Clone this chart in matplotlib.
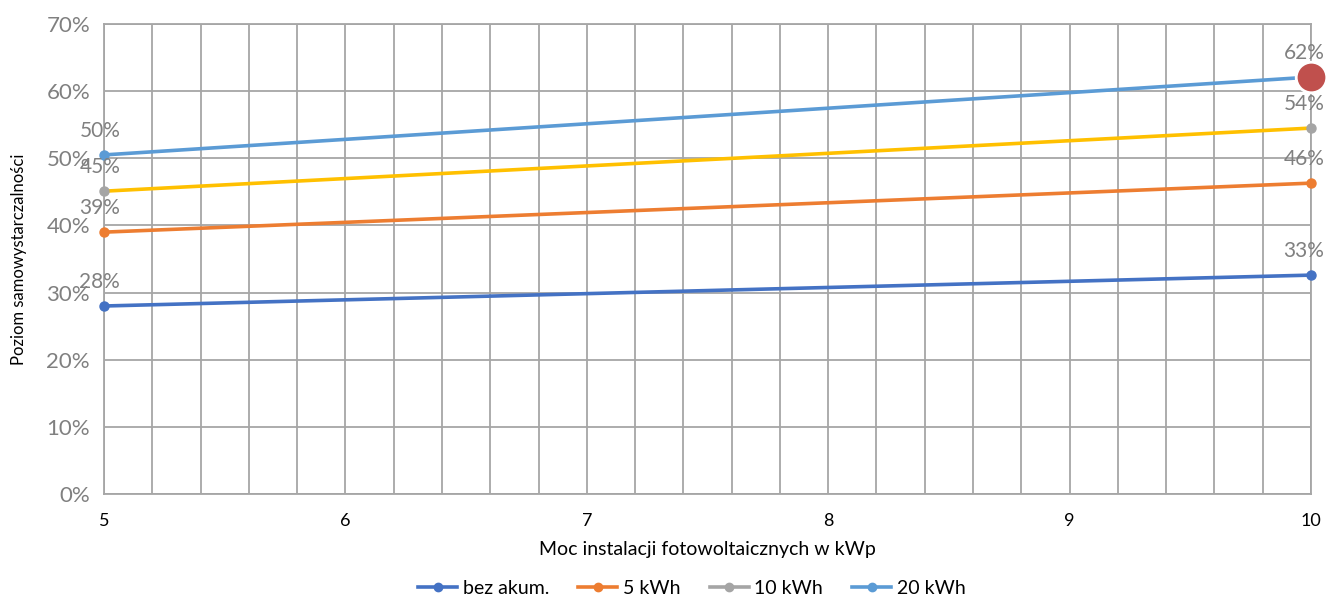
import matplotlib
matplotlib.use("Agg")
import matplotlib.pyplot as plt
import numpy as np
from matplotlib.lines import Line2D
from matplotlib.ticker import MultipleLocator, FuncFormatter

plt.rcParams['font.family'] = ['Lato', 'DejaVu Sans']

x_vals = [5, 10]
series_names = ["bez akum.", "5 kWh", "10 kWh", "20 kWh"]
bez_akum = [28.0, 32.6]
kwh5 = [39.0, 46.3]
kwh10 = [45.1, 54.5]
kwh20 = [50.5, 62.1]
labels_start = ["28%", "39%", "45%", "50%"]
labels_end = ["33%", "46%", "54%", "62%"]

series = [bez_akum, kwh5, kwh10, kwh20]
line_colors = ["#4472C4", "#ED7D31", "#FFC000", "#5B9BD5"]
marker_colors = ["#4472C4", "#ED7D31", "#A5A5A5", "#5B9BD5"]
legend_colors = ["#4472C4", "#ED7D31", "#A5A5A5", "#5B9BD5"]

fig = plt.figure(figsize=(13.33, 5.97), dpi=100)
ax = fig.add_axes([104/1333, 1 - 494/597, (1311-104)/1333, (494-24)/597])

for s, lc, mc in zip(series, line_colors, marker_colors):
    ax.plot(x_vals, s, color=lc, lw=2.6, marker='o', ms=6.5,
            markerfacecolor=mc, markeredgecolor=mc, zorder=3, solid_capstyle='round',
            clip_on=False)

# highlighted last point of 20 kWh
ax.plot([x_vals[1]], [kwh20[1]], marker='o', ms=22, markerfacecolor="#C0504D",
        markeredgecolor="white", markeredgewidth=2, zorder=5, linestyle='none',
        clip_on=False)

for s, ls, le in zip(series, labels_start, labels_end):
    ax.annotate(ls, (x_vals[0], s[0]), xytext=(-3, 10), textcoords='offset points',
                ha='center', va='bottom', fontsize=15, color="#808080", zorder=6)
    ax.annotate(le, (x_vals[1], s[1]), xytext=(-5, 10), textcoords='offset points',
                ha='center', va='bottom', fontsize=15, color="#808080", zorder=6)

ax.set_xlim(5, 10)
ax.set_ylim(0, 70)
ax.xaxis.set_major_locator(MultipleLocator(1))
ax.xaxis.set_minor_locator(MultipleLocator(0.2))
ax.yaxis.set_major_locator(MultipleLocator(10))
ax.yaxis.set_major_formatter(FuncFormatter(lambda v, p: f"{int(round(v))}%"))
ax.grid(which='both', axis='x', color="#A6A6A6", lw=1.3)
ax.grid(which='major', axis='y', color="#A6A6A6", lw=1.3)
ax.set_axisbelow(True)
for sp in ax.spines.values():
    sp.set_color("#A6A6A6")
    sp.set_linewidth(1.3)
ax.tick_params(axis='both', which='both', length=0)
ax.tick_params(axis='y', labelsize=16, labelcolor="#808080", pad=10)
ax.tick_params(axis='x', labelsize=13, labelcolor="black", pad=14)
ax.set_xlabel("Moc instalacji fotowoltaicznych w kWp", fontsize=14, labelpad=8)
ax.set_ylabel("Poziom samowystarczalności", fontsize=12, labelpad=14)

handles = [Line2D([0], [0], color=c, lw=2.6, marker='o', ms=6, markerfacecolor=c,
                  markeredgecolor=c) for c in legend_colors]
fig.legend(handles, series_names, loc='center', bbox_to_anchor=(692/1333, 1 - 588/597),
           ncol=4, frameon=False, fontsize=14, handlelength=2.0, handletextpad=0.3,
           columnspacing=1.5)

fig.savefig("out.png", dpi=100)
